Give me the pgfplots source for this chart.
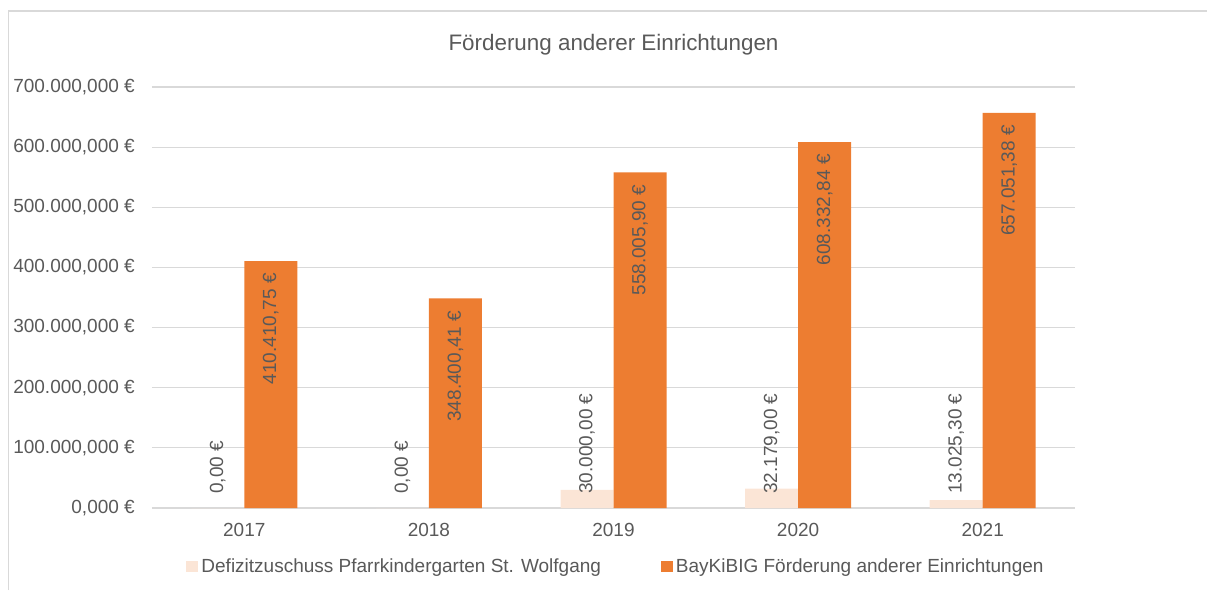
\documentclass[border=0pt]{standalone}
\usepackage{pgfplots}
\pgfplotsset{compat=1.18}
\usepackage{pgfplotstable}
\usepackage{fontspec}
\setmainfont{Liberation Sans}
\definecolor{txt}{HTML}{595959}
\definecolor{gridc}{HTML}{D9D9D9}
\definecolor{orng}{HTML}{ED7D31}
\definecolor{peach}{HTML}{FBE5D6}

\pgfplotstableread[col sep=semicolon]{
x;y;label
0;0;0,00 €
1;0;0,00 €
2;30000;30.000,00 €
3;32179;32.179,00 €
4;13025.30;13.025,30 €
}\defizit

\pgfplotstableread[col sep=semicolon]{
x;y;label
0;410410.75;410.410,75 €
1;348400.41;348.400,41 €
2;558005.90;558.005,90 €
3;608332.84;608.332,84 €
4;657051.38;657.051,38 €
}\bay

\newcommand{\fs}{\fontsize{19}{22}\selectfont}

\begin{document}
\begin{tikzpicture}[x=1pt,y=1pt]
\useasboundingbox (0,0) rectangle (1207,590);
\draw[gridc, line width=1.2pt] (8.5,0) -- (8.5,579) -- (1207,579);
\begin{axis}[
  at={(152pt,82pt)}, anchor=south west,
  scale only axis, width=923pt, height=421pt,
  ybar=0pt, bar width=53pt,
  xmin=-0.5, xmax=4.5, ymin=0, ymax=700000,
  xtick={0,1,2,3,4}, xticklabels={2017,2018,2019,2020,2021},
  ytick={0,100000,200000,300000,400000,500000,600000,700000},
  yticklabels={{0,000 €},{100.000,000 €},{200.000,000 €},{300.000,000 €},{400.000,000 €},{500.000,000 €},{600.000,000 €},{700.000,000 €}},
  scaled y ticks=false,
  axis line style={draw=none},
  major tick length=0pt,
  ymajorgrids, grid style={gridc, line width=1.2pt},
  tick label style={font=\fs, text=txt},
  yticklabel style={anchor=east, inner xsep=0pt, xshift=-17pt},
  xticklabel style={anchor=north, inner ysep=0pt, yshift=-15pt},
  title={Förderung anderer Einrichtungen},
  title style={font=\fontsize{22.4}{26}\selectfont, text=txt, at={(0.5,1)}, anchor=center, yshift=36pt},
  legend columns=2,
  legend style={at={(0.5,0)}, anchor=center, yshift=-58pt, xshift=3pt, draw=none, font=\fs, text=txt,
    nodes={inner xsep=3pt, inner ysep=2pt},
    /tikz/every even column/.append style={column sep=57pt}},
  legend image code/.code={\fill[#1] (0pt,-6pt) rectangle (12pt,5.5pt);},
]
\addplot[fill=peach, draw=none,
  visualization depends on={rawy \as \rawy},
  nodes near coords, point meta=explicit symbolic,
  nodes near coords style={shift={(axis direction cs:0,-\rawy)}, rotate=90, anchor=west, font=\fs, text=txt, inner xsep=14pt, inner ysep=0pt}]
  table[x=x, y=y, meta=label]{\defizit};
\addlegendentry{Defizitzuschuss Pfarrkindergarten St. Wolfgang}
\addplot[fill=orng, draw=none,
  nodes near coords, point meta=explicit symbolic,
  nodes near coords style={rotate=90, anchor=east, font=\fs, text=txt, inner xsep=12pt, inner ysep=0pt}]
  table[x=x, y=y, meta=label]{\bay};
\addlegendentry{BayKiBIG Förderung anderer Einrichtungen}
\end{axis}
\end{tikzpicture}
\end{document}
